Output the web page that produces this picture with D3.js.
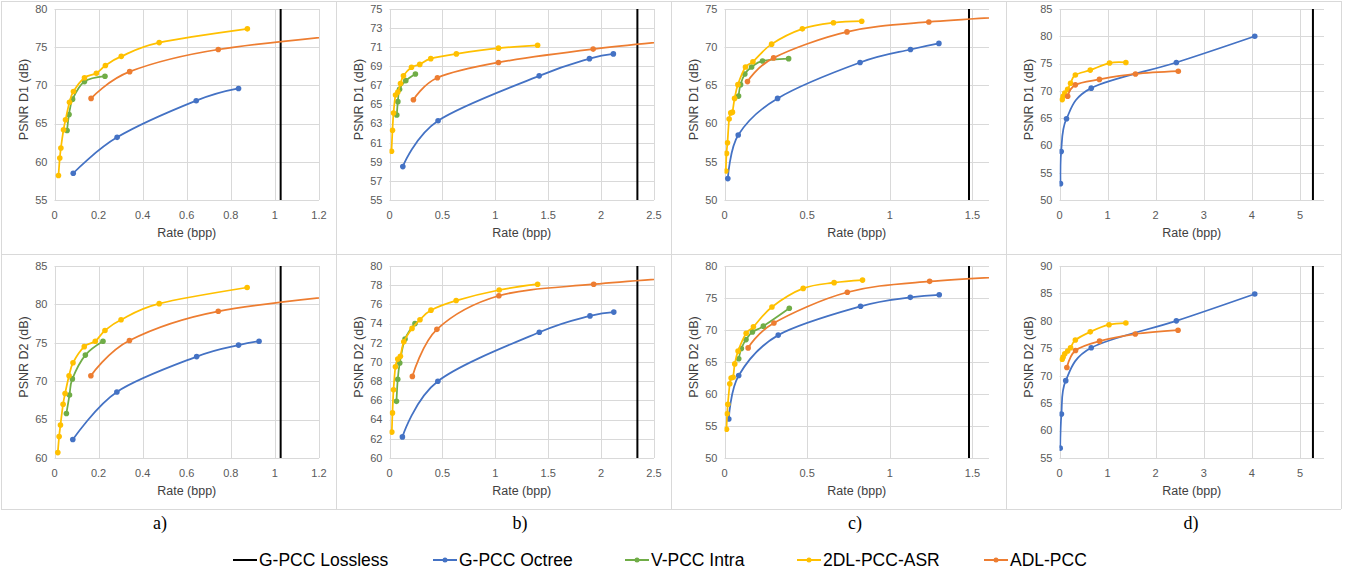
<!DOCTYPE html>
<html>
<head>
<meta charset="utf-8">
<style>
    body { margin: 0; background: #fff; }
    svg { display: block; font-family: "Liberation Sans", Arial, sans-serif; }
    .tick-label { font-size: 11px; fill: #595959; }
    .axis-title { font-size: 12.5px; fill: #404040; }
    .panel-label { font-family: "Liberation Serif", "Times New Roman", serif; font-size: 18px; fill: #000; }
    .legend-text { font-size: 17.5px; fill: #000; }
</style>
</head>
<body>
<svg width="1360" height="576"></svg>
<script src="https://d3js.org/d3.v7.min.js"></script>
<script>
// ---- data ----
const panelNames = ["a)", "b)", "c)", "d)"];
const seriesNames = ["G-PCC Lossless", "G-PCC Octree", "V-PCC Intra", "2DL-PCC-ASR", "ADL-PCC"];
const seriesColors = ["#000000", "#4472C4", "#70AD47", "#FFC000", "#ED7D31"];

const xMax = [1.2, 2.5, 1.6, 5.5];
const xStep = [0.2, 0.5, 0.5, 1];
const xTickMax = [1.2, 2.5, 1.5, 5];
const losslessRate = [1.026, 2.343, 1.479, 5.27];

const d1Range = [[55, 80], [55, 75], [50, 75], [50, 85]];
const d1Step = [5, 2, 5, 5];
const d2Range = [[60, 85], [60, 80], [50, 80], [55, 90]];
const d2Step = [5, 2, 5, 5];

// G-PCC Octree
const octreeRateD1 = [
    [0.085, 0.284, 0.643, 0.835],
    [0.126, 0.459, 1.415, 1.89, 2.116],
    [0.020, 0.083, 0.321, 0.82, 1.125, 1.297],
    [0.02, 0.035, 0.146, 0.66, 2.43, 4.06]];
const octreeD1 = [
    [58.5, 63.2, 68.0, 69.6],
    [58.5, 63.3, 68.0, 69.8, 70.3],
    [52.8, 58.5, 63.3, 68.0, 69.7, 70.5],
    [53.0, 58.9, 64.9, 70.5, 75.2, 80.0]];
const octreeRateD2 = [
    [0.083, 0.283, 0.645, 0.835, 0.928],
    [0.122, 0.457, 1.416, 1.895, 2.12],
    [0.026, 0.086, 0.325, 0.823, 1.124, 1.299],
    [0.014, 0.04, 0.13, 0.66, 2.43, 4.06]];
const octreeD2 = [
    [62.4, 68.6, 73.2, 74.7, 75.2],
    [62.2, 68.0, 73.1, 74.8, 75.2],
    [56.1, 62.9, 69.2, 73.7, 75.1, 75.5],
    [56.8, 63.0, 69.1, 75.1, 80.0, 84.9]];

// V-PCC Intra (no result for d)
const vpccRateD1 = [
    [0.057, 0.066, 0.082, 0.136, 0.229],
    [0.069, 0.079, 0.095, 0.154, 0.245],
    [0.085, 0.097, 0.123, 0.164, 0.230, 0.388],
    []];
const vpccD1 = [
    [64.1, 66.2, 68.2, 70.5, 71.2],
    [63.9, 65.3, 66.6, 67.5, 68.2],
    [63.6, 65.1, 66.5, 67.4, 68.2, 68.5],
    []];
const vpccRateD2 = [
    [0.054, 0.068, 0.081, 0.14, 0.22],
    [0.066, 0.078, 0.097, 0.147, 0.241],
    [0.086, 0.102, 0.13, 0.169, 0.235, 0.392],
    []];
const vpccD2 = [
    [65.8, 68.2, 70.3, 73.4, 75.2],
    [65.9, 68.2, 69.9, 72.4, 74.0],
    [65.5, 67.1, 68.5, 69.7, 70.6, 73.4],
    []];

// 2DL-PCC-ASR
const asrRateD1 = [
    [0.018, 0.024, 0.029, 0.041, 0.05, 0.068, 0.086, 0.136, 0.19, 0.231, 0.303, 0.475, 0.875],
    [0.019, 0.028, 0.038, 0.057, 0.079, 0.104, 0.132, 0.208, 0.286, 0.39, 0.632, 1.03, 1.40],
    [0.008, 0.012, 0.018, 0.028, 0.038, 0.048, 0.061, 0.081, 0.127, 0.172, 0.285, 0.471, 0.659, 0.830],
    [0.056, 0.076, 0.11, 0.17, 0.23, 0.33, 0.64, 1.04, 1.38]];
const asrD1 = [
    [58.2, 60.5, 61.8, 64.2, 65.5, 67.8, 69.2, 71.0, 71.6, 72.6, 73.8, 75.6, 77.4],
    [60.1, 62.3, 64.1, 66.0, 66.3, 67.2, 68.0, 68.9, 69.2, 69.8, 70.3, 70.9, 71.2],
    [53.8, 56.1, 57.5, 60.6, 61.4, 61.5, 63.3, 65.1, 67.4, 68.1, 70.4, 72.4, 73.2, 73.4],
    [68.4, 69.0, 69.6, 70.3, 71.4, 72.9, 73.8, 75.1, 75.2]];
const asrRateD2 = [
    [0.015, 0.021, 0.027, 0.039, 0.048, 0.066, 0.084, 0.135, 0.185, 0.229, 0.302, 0.475, 0.874],
    [0.022, 0.028, 0.038, 0.056, 0.078, 0.103, 0.135, 0.213, 0.288, 0.392, 0.63, 1.037, 1.40],
    [0.012, 0.016, 0.02, 0.032, 0.04, 0.052, 0.062, 0.082, 0.131, 0.175, 0.287, 0.476, 0.663, 0.835],
    [0.056, 0.076, 0.11, 0.17, 0.23, 0.33, 0.64, 1.03, 1.38]];
const asrD2 = [
    [60.7, 62.8, 64.3, 67.0, 68.4, 70.7, 72.4, 74.5, 75.2, 76.6, 78.0, 80.1, 82.2],
    [62.7, 64.7, 67.1, 69.5, 70.3, 70.6, 72.1, 73.5, 74.4, 75.4, 76.4, 77.5, 78.1],
    [54.5, 56.9, 58.4, 61.6, 62.5, 62.6, 64.7, 66.7, 69.5, 70.5, 73.6, 76.5, 77.4, 77.8],
    [73.0, 73.4, 74.0, 74.5, 75.1, 76.5, 78.0, 79.3, 79.6]];

// ADL-PCC (last point of a, b, c lies beyond the axis)
const adlRateD1 = [
    [0.166, 0.341, 0.743, 1.5],
    [0.226, 0.453, 1.03, 1.925, 3.0],
    [0.139, 0.297, 0.741, 1.236, 2.0],
    [0.17, 0.33, 0.83, 1.58, 2.47]];
const adlD1 = [
    [68.3, 71.8, 74.7, 77.1],
    [65.5, 67.8, 69.4, 70.8, 72.0],
    [65.5, 68.6, 72.0, 73.3, 74.3],
    [69.0, 71.1, 72.1, 73.1, 73.6]];
const adlRateD2 = [
    [0.165, 0.34, 0.743, 1.5],
    [0.216, 0.448, 1.034, 1.93, 3.0],
    [0.143, 0.299, 0.743, 1.241, 2.0],
    [0.153, 0.333, 0.833, 1.576, 2.465]];
const adlD2 = [
    [70.7, 75.3, 79.1, 81.7],
    [68.5, 73.4, 76.9, 78.1, 79.0],
    [67.2, 71.1, 75.9, 77.6, 78.7],
    [71.5, 74.6, 76.3, 77.6, 78.3]];

// ---- layout ----
const svg = d3.select("svg");
const colX = [1, 336, 671, 1006, 1341];
const rowY = [1, 254, 509];
const plotTop = [9, 266];
const plotBottom = [200, 458];

// cell borders
colX.forEach(x => svg.append("line").attr("x1", x + 0.5).attr("x2", x + 0.5)
    .attr("y1", rowY[0]).attr("y2", rowY[2]).attr("stroke", "#d9d9d9"));
rowY.forEach(y => svg.append("line").attr("x1", colX[0]).attr("x2", colX[4])
    .attr("y1", y + 0.5).attr("y2", y + 0.5).attr("stroke", "#d9d9d9"));

const fmt = v => String(+v.toFixed(2));

function drawPanel(p, row) {
    const left = colX[p] + 53.5, right = colX[p] + 318;
    const top = plotTop[row], bottom = plotBottom[row];
    const yr = row === 0 ? d1Range[p] : d2Range[p];
    const ys = row === 0 ? d1Step[p] : d2Step[p];

    const x = d3.scaleLinear().domain([0, xMax[p]]).range([left, right]);
    const y = d3.scaleLinear().domain(yr).range([bottom, top]);

    const xTicks = d3.range(0, xTickMax[p] + 1e-6, xStep[p]);
    const yTicks = d3.range(yr[0], yr[1] + 1e-6, ys);

    const g = svg.append("g");
    const id = "clip-" + p + "-" + row;
    g.append("clipPath").attr("id", id).append("rect")
        .attr("x", left).attr("y", top - 4).attr("width", right - left).attr("height", bottom - top + 8);

    // grid
    g.selectAll(".hg").data(yTicks).join("line")
        .attr("x1", left).attr("x2", right)
        .attr("y1", d => Math.round(y(d)) + 0.5).attr("y2", d => Math.round(y(d)) + 0.5)
        .attr("stroke", "#d9d9d9");
    g.selectAll(".vg").data(xTicks).join("line")
        .attr("x1", d => Math.round(x(d)) + 0.5).attr("x2", d => Math.round(x(d)) + 0.5)
        .attr("y1", top).attr("y2", bottom)
        .attr("stroke", "#d9d9d9");

    // tick labels
    g.selectAll(".yl").data(yTicks).join("text").attr("class", "tick-label")
        .attr("x", left - 7).attr("y", d => y(d)).attr("dy", "0.35em")
        .attr("text-anchor", "end").text(d => d);
    g.selectAll(".xl").data(xTicks).join("text").attr("class", "tick-label")
        .attr("x", d => x(d)).attr("y", bottom + 15).attr("dy", "0.35em")
        .attr("text-anchor", "middle").text(fmt);

    // axis titles
    g.append("text").attr("class", "axis-title")
        .attr("x", (left + right) / 2).attr("y", bottom + 33).attr("dy", "0.35em")
        .attr("text-anchor", "middle").text("Rate (bpp)");
    g.append("text").attr("class", "axis-title")
        .attr("transform", `translate(${left - 31},${(top + bottom) / 2 - 5}) rotate(-90)`)
        .attr("dy", "0.35em").attr("text-anchor", "middle")
        .text(row === 0 ? "PSNR D1 (dB)" : "PSNR D2 (dB)");

    const plot = g.append("g").attr("clip-path", `url(#${id})`);

    // lossless reference
    plot.append("line")
        .attr("x1", x(losslessRate[p])).attr("x2", x(losslessRate[p]))
        .attr("y1", top).attr("y2", bottom)
        .attr("stroke", seriesColors[0]).attr("stroke-width", 2);

    const rates = row === 0 ? [octreeRateD1, vpccRateD1, asrRateD1, adlRateD1]
                            : [octreeRateD2, vpccRateD2, asrRateD2, adlRateD2];
    const vals = row === 0 ? [octreeD1, vpccD1, asrD1, adlD1]
                           : [octreeD2, vpccD2, asrD2, adlD2];

    const line = d3.line().x(d => x(d[0])).y(d => y(d[1]))
        .curve(d3.curveCatmullRom.alpha(0));

    rates.forEach((r, s) => {
        const pts = r[p].map((v, i) => [v, vals[s][p][i]]);
        if (!pts.length) return;
        const color = seriesColors[s + 1];
        plot.append("path").datum(pts).attr("d", line)
            .attr("fill", "none").attr("stroke", color).attr("stroke-width", 1.75);
        plot.selectAll(null).data(pts).join("circle")
            .attr("cx", d => x(d[0])).attr("cy", d => y(d[1])).attr("r", 2.8)
            .attr("fill", color);
    });
}

for (let row = 0; row < 2; row++) {
    for (let p = 0; p < 4; p++) drawPanel(p, row);
}

// panel labels
const labelX = [160, 520, 855, 1191];
svg.selectAll(".pl").data(panelNames).join("text").attr("class", "panel-label")
    .attr("x", (d, i) => labelX[i]).attr("y", 523).attr("dy", "0.35em")
    .attr("text-anchor", "middle").text(d => d);

// legend
const legendX = [233, 433, 625, 797, 984];
const legend = svg.selectAll(".lg").data(seriesNames).join("g")
    .attr("transform", (d, i) => `translate(${legendX[i]},560)`);
legend.append("line").attr("x1", 0).attr("x2", 24).attr("y1", 0).attr("y2", 0)
    .attr("stroke", (d, i) => seriesColors[i]).attr("stroke-width", 2);
legend.filter((d, i) => i > 0).append("circle")
    .attr("cx", 12).attr("cy", 0).attr("r", 2.5)
    .attr("fill", (d, i) => seriesColors[i + 1]);
legend.append("text").attr("class", "legend-text")
    .attr("x", 26).attr("y", 0).attr("dy", "0.35em").text(d => d);
</script>
</body>
</html>
